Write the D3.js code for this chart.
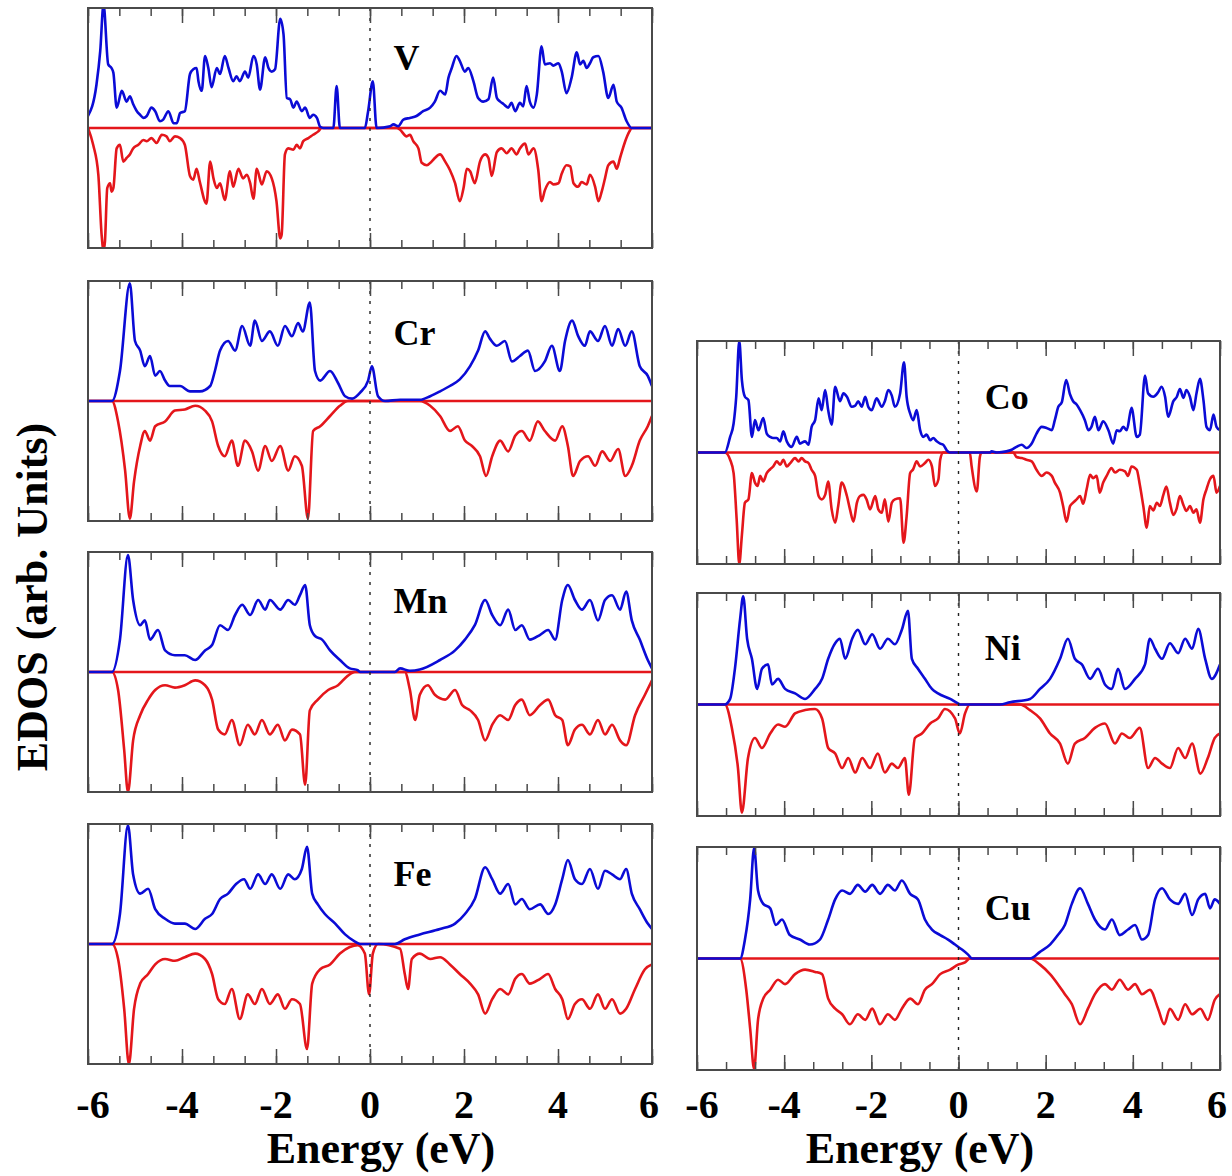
<!DOCTYPE html>
<html>
<head>
<meta charset="utf-8">
<script src="https://cdn.jsdelivr.net/npm/d3@7"></script>
<style>
  html, body { margin: 0; padding: 0; background: #fff; }
  svg { display: block; }
</style>
</head>
<body>
<script>
// Spin-resolved electronic DOS, [energy (eV), DOS (arb. units)]; spin-up positive, spin-down negative.
const energyTicks = [-6, -4, -2, 0, 2, 4, 6];

const vUp = [[-6.0,1.0],[-5.82,3.6],[-5.74,6.4],[-5.67,10.3],[-5.57,5.3],[-5.50,5.0],[-5.46,4.6],[-5.39,1.7],[-5.28,3.1],[-5.18,2.2],[-5.11,2.65],[-5.04,2.0],[-4.96,1.4],[-4.89,1.1],[-4.82,0.84],[-4.75,1.0],[-4.65,1.7],[-4.57,1.4],[-4.47,0.56],[-4.40,0.7],[-4.29,1.4],[-4.18,0.4],[-4.11,0.4],[-4.04,1.25],[-3.94,1.4],[-3.83,4.5],[-3.76,4.9],[-3.69,5.0],[-3.65,3.9],[-3.58,3.1],[-3.51,6.0],[-3.44,5.0],[-3.37,3.4],[-3.26,5.0],[-3.19,4.5],[-3.09,6.0],[-3.01,5.0],[-2.91,3.9],[-2.84,4.3],[-2.77,3.9],[-2.66,4.7],[-2.59,4.2],[-2.48,6.0],[-2.41,5.3],[-2.34,3.2],[-2.23,5.9],[-2.16,5.0],[-2.09,4.7],[-2.02,4.9],[-1.91,9.1],[-1.84,7.8],[-1.77,2.5],[-1.70,2.4],[-1.63,1.7],[-1.56,2.2],[-1.45,1.4],[-1.38,1.7],[-1.28,0.84],[-1.21,1.1],[-1.13,0.84],[-1.06,0.1],[-0.99,0],[-0.78,0],[-0.71,3.5],[-0.64,0],[-0.11,0],[-0.04,1.4],[0.06,3.9],[0.14,0],[0.43,0.15],[0.50,0.3],[0.60,0.15],[0.71,0.7],[0.85,0.84],[0.99,1.0],[1.13,1.4],[1.28,1.7],[1.38,2.2],[1.49,3.1],[1.60,2.8],[1.67,4.2],[1.74,5.0],[1.84,6.0],[1.91,5.6],[2.02,4.7],[2.09,5.0],[2.20,3.9],[2.30,2.5],[2.41,2.2],[2.52,2.4],[2.62,4.2],[2.70,2.5],[2.77,2.2],[2.84,2.0],[2.94,1.7],[3.01,2.1],[3.09,1.4],[3.19,2.1],[3.26,1.8],[3.33,3.5],[3.40,2.2],[3.48,1.7],[3.55,2.8],[3.65,6.8],[3.72,5.3],[3.83,5.4],[3.90,5.2],[4.01,5.4],[4.08,4.7],[4.18,2.9],[4.29,4.2],[4.40,6.3],[4.47,5.3],[4.54,5.6],[4.61,5.0],[4.68,5.4],[4.75,5.9],[4.86,6.0],[4.96,4.7],[5.07,2.5],[5.18,3.6],[5.25,2.2],[5.35,1.7],[5.46,0.56],[5.57,0],[6.0,0]];
const vDown = [[-6.0,0],[-5.89,-1.4],[-5.78,-3.9],[-5.71,-8.9],[-5.67,-10.2],[-5.64,-9.5],[-5.59,-5.0],[-5.53,-4.6],[-5.50,-5.3],[-5.46,-5.0],[-5.39,-1.7],[-5.32,-1.4],[-5.25,-2.8],[-5.18,-2.5],[-5.11,-2.2],[-5.04,-1.7],[-4.93,-1.4],[-4.82,-1.0],[-4.75,-1.1],[-4.65,-0.84],[-4.54,-1.25],[-4.43,-0.56],[-4.33,-0.7],[-4.26,-1.1],[-4.15,-0.7],[-4.04,-0.84],[-3.94,-1.4],[-3.83,-4.0],[-3.76,-4.3],[-3.69,-3.4],[-3.62,-4.5],[-3.48,-6.3],[-3.40,-2.8],[-3.33,-4.2],[-3.26,-5.0],[-3.19,-4.6],[-3.09,-6.0],[-2.98,-3.6],[-2.91,-4.9],[-2.80,-3.4],[-2.70,-4.2],[-2.62,-3.9],[-2.55,-4.6],[-2.48,-5.9],[-2.41,-3.4],[-2.30,-4.7],[-2.20,-3.6],[-2.09,-4.2],[-1.99,-6.1],[-1.91,-9.2],[-1.88,-8.9],[-1.81,-2.2],[-1.74,-1.7],[-1.63,-1.8],[-1.56,-1.4],[-1.49,-1.7],[-1.42,-1.1],[-1.31,-0.84],[-1.21,-0.56],[-1.10,-0.28],[-1.03,0],[0.57,0],[0.64,-0.15],[0.78,-0.7],[0.85,-0.56],[0.92,-1.1],[1.03,-1.7],[1.10,-2.9],[1.21,-3.1],[1.31,-2.8],[1.38,-2.5],[1.49,-2.2],[1.60,-2.8],[1.70,-3.5],[1.81,-4.6],[1.91,-6.1],[1.99,-5.0],[2.06,-3.4],[2.13,-3.6],[2.23,-4.6],[2.34,-2.8],[2.45,-2.2],[2.52,-2.5],[2.59,-4.0],[2.70,-2.0],[2.80,-1.7],[2.91,-2.1],[3.01,-1.7],[3.12,-2.2],[3.19,-1.7],[3.30,-1.3],[3.37,-2.2],[3.48,-1.7],[3.58,-3.5],[3.65,-6.1],[3.72,-5.2],[3.83,-4.5],[3.90,-4.7],[4.01,-4.6],[4.08,-3.8],[4.18,-3.1],[4.26,-3.2],[4.33,-4.6],[4.43,-4.9],[4.50,-4.5],[4.61,-4.7],[4.68,-3.9],[4.79,-4.9],[4.86,-6.1],[4.93,-5.3],[5.00,-4.2],[5.07,-3.1],[5.18,-2.8],[5.25,-3.4],[5.32,-2.5],[5.43,-1.1],[5.52,-0.28],[5.57,0],[6.0,0]];

const crUp = [[-6.0,0],[-5.49,0],[-5.32,2.5],[-5.11,9.8],[-5.0,5.0],[-4.89,4.2],[-4.79,2.9],[-4.68,3.75],[-4.57,2.1],[-4.47,2.5],[-4.36,1.7],[-4.26,1.25],[-4.04,1.25],[-3.83,0.8],[-3.62,0.8],[-3.40,1.25],[-3.30,2.5],[-3.19,4.2],[-3.02,5.0],[-2.87,4.2],[-2.72,6.25],[-2.55,4.6],[-2.45,6.7],[-2.30,5.0],[-2.13,5.8],[-1.96,4.6],[-1.81,6.25],[-1.66,5.4],[-1.53,6.5],[-1.43,5.8],[-1.28,8.2],[-1.17,2.5],[-1.06,1.7],[-0.85,2.5],[-0.68,1.5],[-0.53,0.4],[-0.38,0.2],[-0.21,0.7],[-0.04,1.7],[0.04,2.9],[0.17,0.4],[0.32,0],[0.64,0.1],[1.06,0.1],[1.28,0.4],[1.49,0.8],[1.70,1.25],[1.91,1.8],[2.13,2.9],[2.30,4.2],[2.45,5.8],[2.55,5.2],[2.70,4.6],[2.87,5.0],[3.02,3.3],[3.19,3.75],[3.36,4.2],[3.51,2.5],[3.72,3.3],[3.87,4.6],[4.04,2.5],[4.15,5.0],[4.30,6.7],[4.43,5.4],[4.57,4.6],[4.68,5.8],[4.85,5.0],[5.0,6.25],[5.15,4.6],[5.28,6.0],[5.43,4.6],[5.57,5.8],[5.74,2.9],[5.91,2.1],[6.0,1.25]];
const crDown = [[-6.0,0],[-5.49,0],[-5.36,-1.7],[-5.21,-5.8],[-5.11,-9.8],[-5.02,-6.7],[-4.89,-3.75],[-4.79,-2.5],[-4.68,-3.3],[-4.57,-2.1],[-4.36,-1.7],[-4.15,-0.8],[-3.94,-0.7],[-3.72,-0.4],[-3.51,-0.8],[-3.36,-1.7],[-3.23,-3.75],[-3.09,-4.6],[-2.94,-3.3],[-2.81,-5.4],[-2.66,-3.3],[-2.51,-4.2],[-2.38,-5.8],[-2.23,-3.75],[-2.09,-5.0],[-1.91,-3.75],[-1.74,-5.8],[-1.60,-4.6],[-1.45,-5.4],[-1.32,-9.8],[-1.21,-2.5],[-1.06,-2.1],[-0.85,-1.25],[-0.64,-0.4],[-0.47,0],[1.06,0],[1.28,-0.4],[1.49,-1.25],[1.70,-2.5],[1.87,-2.1],[2.02,-3.3],[2.17,-3.75],[2.34,-4.6],[2.47,-6.25],[2.60,-4.6],[2.77,-3.3],[2.94,-4.2],[3.09,-2.9],[3.23,-2.5],[3.40,-3.3],[3.57,-1.7],[3.72,-2.5],[3.94,-3.3],[4.09,-2.1],[4.21,-3.75],[4.32,-6.25],[4.47,-5.0],[4.64,-4.6],[4.79,-5.4],[4.94,-4.2],[5.11,-5.0],[5.28,-4.0],[5.43,-6.25],[5.57,-5.4],[5.74,-3.3],[5.91,-2.1],[6.0,-1.25]];

const mnUp = [[-6,0],[-5.49,0],[-5.32,2.7],[-5.15,9.75],[-5.04,6.0],[-4.89,3.9],[-4.79,4.3],[-4.68,2.7],[-4.51,3.5],[-4.36,1.8],[-4.15,1.4],[-3.94,1.4],[-3.72,1.0],[-3.51,1.8],[-3.36,2.25],[-3.19,3.9],[-3.02,3.5],[-2.87,4.75],[-2.72,5.6],[-2.55,4.75],[-2.38,6.0],[-2.23,5.2],[-2.13,6.0],[-1.91,5.2],[-1.74,6.0],[-1.60,5.6],[-1.49,6.4],[-1.38,7.25],[-1.28,3.9],[-1.17,3.0],[-1.02,2.7],[-0.85,1.8],[-0.64,1.0],[-0.43,0.3],[-0.26,0.15],[-0.21,0],[0.53,0],[0.64,0.3],[0.85,0.1],[1.06,0.2],[1.49,1.0],[1.81,1.8],[2.02,2.7],[2.23,3.9],[2.45,6.0],[2.60,4.75],[2.77,3.9],[2.94,5.2],[3.09,3.5],[3.23,3.9],[3.40,2.7],[3.62,3.1],[3.79,3.5],[3.94,2.7],[4.09,6.0],[4.21,7.25],[4.36,6.0],[4.51,5.2],[4.68,6.0],[4.85,4.3],[5.0,6.0],[5.15,6.4],[5.32,5.2],[5.45,6.7],[5.57,4.3],[5.74,2.7],[5.91,1.0],[6.0,0.3]];
const mnDown = [[-6,0],[-5.49,0],[-5.36,-1.5],[-5.23,-6.5],[-5.15,-10],[-5.04,-5.7],[-4.89,-3.6],[-4.72,-2.3],[-4.57,-1.5],[-4.36,-1.1],[-4.15,-1.3],[-3.94,-1.1],[-3.72,-0.7],[-3.51,-1.1],[-3.36,-2.3],[-3.23,-4.8],[-3.09,-5.2],[-2.94,-4.0],[-2.77,-6.1],[-2.60,-4.4],[-2.45,-5.2],[-2.30,-4.0],[-2.13,-5.2],[-1.96,-4.4],[-1.81,-5.7],[-1.66,-4.8],[-1.49,-5.2],[-1.38,-9.4],[-1.28,-3.2],[-1.11,-2.3],[-0.89,-1.5],[-0.68,-1.1],[-0.47,-0.3],[-0.32,0],[0.74,0],[0.85,-1.5],[0.96,-4.0],[1.06,-1.9],[1.23,-1.1],[1.38,-1.9],[1.60,-2.3],[1.81,-1.5],[1.96,-2.75],[2.13,-3.2],[2.30,-4.0],[2.45,-5.7],[2.60,-4.4],[2.77,-3.6],[2.94,-4.0],[3.09,-2.75],[3.23,-2.3],[3.40,-3.6],[3.62,-2.75],[3.79,-2.3],[3.94,-3.6],[4.09,-4.0],[4.21,-6.1],[4.36,-4.8],[4.51,-4.4],[4.68,-5.2],[4.85,-4.0],[5.0,-5.2],[5.15,-4.4],[5.32,-5.7],[5.45,-6.1],[5.64,-3.6],[5.85,-1.9],[6.0,-0.7]];

const feUp = [[-6,0],[-5.49,0],[-5.32,2.5],[-5.15,9.9],[-5.04,5.8],[-4.89,4.2],[-4.72,4.6],[-4.57,2.9],[-4.36,2.1],[-4.15,1.7],[-3.94,1.7],[-3.72,1.25],[-3.51,2.1],[-3.36,2.5],[-3.19,3.75],[-3.02,4.2],[-2.85,5.0],[-2.68,5.4],[-2.55,4.6],[-2.38,5.8],[-2.23,5.0],[-2.09,5.8],[-1.91,4.6],[-1.74,5.8],[-1.60,5.4],[-1.45,6.25],[-1.34,8.1],[-1.23,4.2],[-1.11,3.3],[-0.96,2.5],[-0.74,1.7],[-0.53,0.8],[-0.32,0.2],[-0.21,0],[0.53,0],[0.74,0.4],[1.06,0.8],[1.49,1.25],[1.81,1.7],[2.02,2.5],[2.23,3.75],[2.45,6.4],[2.60,5.4],[2.77,4.2],[2.94,5.0],[3.09,3.3],[3.23,3.75],[3.40,2.9],[3.62,3.3],[3.79,2.5],[3.94,3.3],[4.09,5.4],[4.21,7.0],[4.36,5.4],[4.51,5.0],[4.68,6.25],[4.85,4.6],[5.0,6.1],[5.15,5.8],[5.32,5.4],[5.45,6.25],[5.57,4.2],[5.74,2.9],[5.91,1.7],[6.0,1.25]];
const feDown = [[-6,0],[-5.49,0],[-5.36,-1.25],[-5.23,-5.4],[-5.13,-10],[-5.02,-5.4],[-4.89,-3.3],[-4.72,-2.5],[-4.57,-1.7],[-4.36,-1.25],[-4.15,-1.4],[-3.94,-1.1],[-3.72,-0.8],[-3.51,-1.25],[-3.36,-2.5],[-3.23,-4.6],[-3.09,-5.0],[-2.94,-3.75],[-2.77,-6.25],[-2.60,-4.2],[-2.45,-5.0],[-2.30,-3.75],[-2.13,-5.0],[-1.96,-4.2],[-1.81,-5.4],[-1.66,-4.6],[-1.49,-5.0],[-1.34,-8.75],[-1.23,-3.3],[-1.06,-2.1],[-0.85,-1.7],[-0.64,-0.8],[-0.43,-0.25],[-0.26,-0.1],[-0.11,-0.8],[-0.02,-4.2],[0.06,-0.8],[0.17,0],[0.64,-0.4],[0.74,-2.5],[0.81,-3.75],[0.89,-1.25],[1.06,-0.8],[1.28,-1.25],[1.49,-1.1],[1.70,-1.7],[1.91,-2.5],[2.13,-3.3],[2.30,-4.2],[2.45,-5.8],[2.60,-4.6],[2.77,-3.75],[2.94,-4.2],[3.09,-2.9],[3.23,-2.5],[3.40,-3.3],[3.62,-2.9],[3.79,-2.5],[3.94,-3.75],[4.09,-4.6],[4.21,-6.25],[4.36,-5.0],[4.51,-4.6],[4.68,-5.4],[4.85,-4.2],[5.0,-5.4],[5.15,-4.6],[5.32,-5.8],[5.45,-5.4],[5.64,-3.75],[5.85,-2.1],[6.0,-1.7]];

const coUp = [[-6,0],[-5.36,0],[-5.24,1.4],[-5.16,2.6],[-5.10,5.0],[-5.03,10],[-4.97,6.5],[-4.90,5.0],[-4.82,4.7],[-4.74,1.4],[-4.67,2.9],[-4.59,2.0],[-4.48,3.1],[-4.40,1.7],[-4.32,1.4],[-4.25,1.3],[-4.17,1.3],[-4.09,1.0],[-4.02,1.9],[-3.94,1.0],[-3.83,0.5],[-3.71,1.4],[-3.64,0.8],[-3.52,1.0],[-3.44,0.7],[-3.37,2.3],[-3.29,2.9],[-3.21,4.85],[-3.14,3.8],[-3.06,5.6],[-2.99,3.8],[-2.91,2.5],[-2.83,5.9],[-2.72,4.6],[-2.64,5.3],[-2.56,5.0],[-2.45,4.1],[-2.37,4.2],[-2.30,4.6],[-2.22,4.1],[-2.14,5.0],[-2.07,4.1],[-1.99,3.8],[-1.88,4.85],[-1.76,4.1],[-1.69,4.6],[-1.61,5.6],[-1.53,5.1],[-1.46,4.1],[-1.34,5.3],[-1.25,8.1],[-1.19,5.0],[-1.11,3.5],[-1.04,2.9],[-0.96,3.8],[-0.88,2.0],[-0.81,1.4],[-0.73,1.6],[-0.65,1.1],[-0.58,1.3],[-0.50,1.0],[-0.42,0.8],[-0.35,0.7],[-0.27,0.2],[-0.20,0],[0.72,0],[0.76,0.1],[0.88,0],[1.10,0.1],[1.22,0.25],[1.33,0.5],[1.45,0.7],[1.56,0.4],[1.68,0.8],[1.79,1.7],[1.91,2.3],[2.02,2.2],[2.14,2.0],[2.21,2.9],[2.29,4.1],[2.37,4.5],[2.47,6.5],[2.56,5.2],[2.63,4.6],[2.71,4.3],[2.79,3.8],[2.90,2.9],[2.98,2.0],[3.05,2.3],[3.13,3.2],[3.21,2.0],[3.32,2.8],[3.44,2.0],[3.55,0.8],[3.63,2.0],[3.70,1.9],[3.78,2.3],[3.86,2.0],[3.97,4.0],[4.09,1.4],[4.16,1.6],[4.28,6.9],[4.35,5.3],[4.47,5.0],[4.58,5.4],[4.66,5.9],[4.74,5.0],[4.81,3.2],[4.93,4.6],[5.01,5.0],[5.08,5.7],[5.16,4.9],[5.23,5.6],[5.31,5.0],[5.39,3.8],[5.46,5.3],[5.54,6.6],[5.62,4.7],[5.69,2.3],[5.77,2.0],[5.85,3.4],[5.92,2.3],[6.0,2.0]];
const coDown = [[-6,0],[-5.36,0],[-5.24,-0.65],[-5.16,-1.85],[-5.09,-6.0],[-5.03,-10],[-4.97,-7.4],[-4.90,-4.5],[-4.82,-4.2],[-4.74,-1.85],[-4.67,-2.7],[-4.61,-3.0],[-4.55,-2.1],[-4.48,-2.6],[-4.40,-1.85],[-4.32,-1.5],[-4.25,-1.25],[-4.17,-0.8],[-4.09,-1.1],[-4.02,-0.65],[-3.94,-1.25],[-3.86,-0.95],[-3.75,-0.5],[-3.67,-0.8],[-3.60,-0.5],[-3.52,-0.8],[-3.44,-0.95],[-3.37,-1.55],[-3.29,-2.1],[-3.21,-3.9],[-3.14,-4.2],[-3.06,-3.8],[-2.99,-2.6],[-2.91,-5.1],[-2.83,-6.3],[-2.76,-4.8],[-2.68,-2.7],[-2.56,-3.9],[-2.49,-5.1],[-2.41,-6.2],[-2.33,-4.5],[-2.26,-3.9],[-2.18,-3.8],[-2.11,-4.2],[-2.03,-5.1],[-1.91,-3.9],[-1.84,-5.1],[-1.76,-5.4],[-1.69,-4.2],[-1.61,-6.2],[-1.53,-4.5],[-1.46,-4.2],[-1.34,-4.1],[-1.26,-8.1],[-1.19,-5.7],[-1.11,-1.85],[-1.04,-1.5],[-0.96,-0.8],[-0.88,-1.25],[-0.77,-0.95],[-0.69,-0.65],[-0.61,-1.25],[-0.54,-3.0],[-0.46,-2.4],[-0.42,-0.65],[-0.35,0],[0.26,0],[0.30,-1.2],[0.42,-3.5],[0.49,-0.4],[0.53,0],[1.26,0],[1.33,-0.4],[1.45,-0.5],[1.56,-0.65],[1.68,-0.8],[1.79,-1.55],[1.91,-2.1],[2.02,-1.8],[2.14,-2.1],[2.21,-2.7],[2.33,-3.6],[2.40,-4.8],[2.48,-6.2],[2.56,-4.8],[2.63,-4.5],[2.71,-4.2],[2.79,-3.9],[2.86,-4.6],[2.94,-3.3],[3.02,-2.0],[3.09,-2.3],[3.17,-2.1],[3.24,-3.6],[3.32,-2.7],[3.40,-2.1],[3.51,-1.4],[3.59,-1.8],[3.70,-1.55],[3.82,-1.7],[3.89,-2.1],[3.97,-1.25],[4.09,-1.55],[4.16,-2.9],[4.24,-4.8],[4.32,-6.75],[4.39,-4.8],[4.47,-5.2],[4.55,-4.5],[4.62,-4.8],[4.70,-3.8],[4.77,-3.05],[4.85,-4.5],[4.93,-5.6],[5.00,-5.1],[5.08,-3.9],[5.16,-4.7],[5.23,-5.25],[5.31,-4.8],[5.39,-5.4],[5.46,-5.1],[5.54,-6.3],[5.62,-4.2],[5.69,-3.3],[5.77,-2.4],[5.85,-2.1],[5.92,-3.6],[6.0,-3.0]];

const niUp = [[-6,0],[-5.36,0],[-5.24,0.5],[-5.13,3.2],[-5.01,7.7],[-4.94,9.7],[-4.85,5.9],[-4.74,4.1],[-4.62,1.4],[-4.51,3.2],[-4.37,3.6],[-4.28,1.8],[-4.14,2.3],[-3.98,1.4],[-3.75,1.0],[-3.52,0.5],[-3.29,1.4],[-3.13,2.3],[-2.99,4.1],[-2.83,5.5],[-2.72,5.9],[-2.60,4.1],[-2.44,5.9],[-2.31,6.7],[-2.14,5.4],[-1.98,6.3],[-1.80,5.0],[-1.62,5.9],[-1.46,5.4],[-1.30,6.7],[-1.16,8.4],[-1.07,4.1],[-0.93,3.2],[-0.77,2.3],[-0.61,1.4],[-0.47,1.0],[-0.19,0.5],[-0.01,0.1],[0.05,0],[0.95,0],[1.18,0.2],[1.64,0.5],[1.87,1.4],[2.10,2.3],[2.33,4.1],[2.51,5.9],[2.67,4.1],[2.83,3.6],[3.02,2.3],[3.20,3.2],[3.36,1.8],[3.52,1.4],[3.66,3.2],[3.82,1.4],[4.05,2.3],[4.28,3.6],[4.39,5.9],[4.51,5.0],[4.67,4.1],[4.85,5.5],[5.04,4.6],[5.20,5.9],[5.36,5.0],[5.50,6.8],[5.66,4.1],[5.81,2.3],[6.0,3.6]];
const niDown = [[-6,0],[-5.36,0],[-5.20,-2.1],[-5.06,-5.7],[-4.97,-9.7],[-4.83,-4.8],[-4.67,-3.0],[-4.51,-3.9],[-4.32,-2.6],[-4.14,-1.8],[-3.98,-2.0],[-3.75,-0.8],[-3.52,-0.5],[-3.29,-0.4],[-3.13,-1.25],[-2.99,-3.9],[-2.83,-4.4],[-2.67,-5.7],[-2.53,-4.8],[-2.37,-6.1],[-2.21,-4.8],[-2.03,-5.7],[-1.85,-4.4],[-1.69,-6.1],[-1.53,-5.3],[-1.39,-5.7],[-1.23,-4.8],[-1.14,-8.1],[-1.00,-3.0],[-0.84,-2.6],[-0.65,-1.7],[-0.47,-1.25],[-0.31,-0.4],[-0.08,-1.25],[0.03,-2.6],[0.15,-0.8],[0.26,0],[1.41,0],[1.64,-0.5],[1.87,-1.25],[2.10,-2.6],[2.33,-3.5],[2.51,-5.3],[2.67,-3.5],[2.90,-3.0],[3.13,-2.1],[3.36,-1.7],[3.59,-3.5],[3.75,-2.6],[3.93,-3.0],[4.16,-2.1],[4.35,-5.7],[4.51,-4.8],[4.67,-5.3],[4.85,-5.7],[5.04,-3.9],[5.20,-4.8],[5.36,-3.5],[5.55,-6.2],[5.72,-4.8],[5.88,-3.0],[6.0,-2.6]];

const cuUp = [[-6,0],[-5.01,0],[-4.90,1.7],[-4.78,5.3],[-4.69,9.9],[-4.60,6.1],[-4.48,4.9],[-4.32,4.5],[-4.19,3.0],[-4.05,3.5],[-3.87,2.1],[-3.64,1.7],[-3.41,1.25],[-3.18,1.7],[-2.99,3.5],[-2.83,5.3],[-2.67,6.1],[-2.49,5.8],[-2.31,6.6],[-2.14,6.0],[-1.98,6.6],[-1.80,5.8],[-1.62,6.6],[-1.46,6.1],[-1.30,7.0],[-1.11,5.8],[-0.93,5.3],[-0.77,3.5],[-0.61,2.6],[-0.42,2.1],[-0.24,1.7],[-0.08,1.25],[0.08,0.8],[0.22,0.35],[0.31,0],[1.64,0],[1.87,0.6],[2.10,1.25],[2.28,2.1],[2.44,3.0],[2.60,4.9],[2.79,6.3],[2.97,4.9],[3.13,3.5],[3.36,2.6],[3.52,3.5],[3.70,2.1],[3.89,2.6],[4.05,3.0],[4.21,1.7],[4.35,2.1],[4.51,5.3],[4.67,6.3],[4.85,5.3],[5.04,4.9],[5.20,5.8],[5.36,3.9],[5.50,5.3],[5.66,5.8],[5.77,4.5],[5.88,5.3],[6.0,4.9]];
const cuDown = [[-6,0],[-5.01,0],[-4.87,-2.8],[-4.78,-6.3],[-4.69,-9.9],[-4.60,-5.5],[-4.48,-3.6],[-4.32,-2.8],[-4.14,-1.9],[-3.98,-2.3],[-3.75,-1.4],[-3.52,-1.0],[-3.29,-1.2],[-3.13,-1.4],[-2.99,-3.6],[-2.83,-4.5],[-2.67,-5.0],[-2.49,-5.9],[-2.31,-5.0],[-2.14,-5.5],[-1.98,-4.5],[-1.80,-5.9],[-1.62,-5.0],[-1.46,-5.5],[-1.30,-4.5],[-1.11,-3.6],[-0.93,-4.1],[-0.77,-2.8],[-0.61,-2.3],[-0.42,-1.4],[-0.19,-1.0],[-0.01,-0.55],[0.15,-0.35],[0.26,0],[1.64,0],[1.87,-0.55],[2.10,-1.4],[2.28,-2.3],[2.44,-3.2],[2.60,-4.1],[2.79,-5.9],[2.97,-4.5],[3.13,-3.2],[3.36,-2.3],[3.52,-2.8],[3.70,-1.9],[3.89,-2.8],[4.05,-2.3],[4.21,-3.2],[4.39,-2.8],[4.58,-4.5],[4.72,-5.9],[4.85,-4.5],[5.04,-5.5],[5.20,-4.1],[5.36,-5.0],[5.55,-4.5],[5.72,-5.5],[5.88,-3.7],[6.0,-3.2]];

const elements = ["V", "Cr", "Mn", "Fe", "Co", "Ni", "Cu"];
const spinUp = [vUp, crUp, mnUp, feUp, coUp, niUp, cuUp];
const spinDown = [vDown, crDown, mnDown, feDown, coDown, niDown, cuDown];

// ---- layout ----
const W = 1232, H = 1176;
const FONT = "'Liberation Serif', 'Times New Roman', Times, serif";
const BLUE = "#0b0bd6", RED = "#e4161b", FRAME = "#4a4a4a";

const columns = {
  left:  { x0: 88,  x1: 652,  h: 240, labelE: 0.5, titleX: 381 },
  right: { x0: 697, x1: 1220, h: 223, labelE: 0.6, titleX: 920 }
};
const panelLayout = [
  { col: "left",  top: 8,   labelDy: 62 },
  { col: "left",  top: 281, labelDy: 64 },
  { col: "left",  top: 552, labelDy: 61 },
  { col: "left",  top: 824, labelDy: 62, last: true },
  { col: "right", top: 341, labelDy: 68 },
  { col: "right", top: 593, labelDy: 67 },
  { col: "right", top: 847, labelDy: 73, last: true }
];

const svg = d3.select("body").append("svg")
  .attr("width", W).attr("height", H)
  .attr("font-family", FONT);
svg.append("rect").attr("width", W).attr("height", H).attr("fill", "#fff");

const minorTicks = d3.range(0, 19).map(k => -6 + k * 2 / 3);

elements.forEach((name, i) => {
  const L = panelLayout[i];
  const c = columns[L.col];
  const x = d3.scaleLinear().domain([-6, 6]).range([c.x0, c.x1]);
  const y = d3.scaleLinear().domain([-10, 10]).range([L.top + c.h, L.top]);
  const g = svg.append("g");

  const clipId = "clip-" + name;
  g.append("clipPath").attr("id", clipId)
    .append("rect").attr("x", c.x0).attr("y", L.top).attr("width", c.x1 - c.x0).attr("height", c.h);

  const plot = g.append("g").attr("clip-path", `url(#${clipId})`);
  const line = d3.line().x(d => x(d[0])).y(d => y(d[1])).curve(d3.curveMonotoneX);

  // zero baseline of the spin-down channel
  plot.append("line")
    .attr("x1", x(-6)).attr("x2", x(6)).attr("y1", y(0)).attr("y2", y(0))
    .attr("stroke", RED).attr("stroke-width", 2.4);

  plot.append("path").datum(spinDown[i])
    .attr("d", line).attr("fill", "none")
    .attr("stroke", RED).attr("stroke-width", 2.6).attr("stroke-linejoin", "round");
  plot.append("path").datum(spinUp[i])
    .attr("d", line).attr("fill", "none")
    .attr("stroke", BLUE).attr("stroke-width", 2.6).attr("stroke-linejoin", "round");

  // Fermi level
  g.append("line")
    .attr("x1", x(0)).attr("x2", x(0)).attr("y1", L.top).attr("y2", L.top + c.h)
    .attr("stroke", "#222").attr("stroke-width", 1.4).attr("stroke-dasharray", "3,7");

  // inward ticks on top and bottom edges
  const tickStyle = sel => {
    sel.select(".domain").remove();
    sel.selectAll(".tick line").attr("stroke", FRAME).attr("stroke-width", 1.5);
  };
  g.append("g").attr("transform", `translate(0,${L.top})`)
    .call(d3.axisTop(x).tickValues(minorTicks).tickSizeInner(-8).tickSizeOuter(0).tickFormat(""))
    .call(tickStyle);
  g.append("g").attr("transform", `translate(0,${L.top})`)
    .call(d3.axisTop(x).tickValues(energyTicks).tickSizeInner(-15).tickSizeOuter(0).tickFormat(""))
    .call(tickStyle);
  g.append("g").attr("transform", `translate(0,${L.top + c.h})`)
    .call(d3.axisBottom(x).tickValues(minorTicks).tickSizeInner(-8).tickSizeOuter(0).tickFormat(""))
    .call(tickStyle);
  g.append("g").attr("transform", `translate(0,${L.top + c.h})`)
    .call(d3.axisBottom(x).tickValues(energyTicks).tickSizeInner(-15).tickSizeOuter(0).tickFormat(""))
    .call(tickStyle);

  // frame
  g.append("rect")
    .attr("x", c.x0).attr("y", L.top).attr("width", c.x1 - c.x0).attr("height", c.h)
    .attr("fill", "none").attr("stroke", FRAME).attr("stroke-width", 2);

  // element label
  g.append("text")
    .attr("x", x(c.labelE)).attr("y", L.top + L.labelDy)
    .attr("font-size", 36).attr("font-weight", "bold").attr("fill", "#000")
    .text(name);

  if (L.last) {
    // end labels sit slightly inside the frame edges
    const nudge = d => (d === -6 ? 5 : d === 6 ? -3 : 0);
    g.selectAll("text.tl").data(energyTicks).join("text")
      .attr("class", "tl")
      .attr("x", d => x(d) + nudge(d)).attr("y", 1118)
      .attr("text-anchor", "middle")
      .attr("font-size", 40).attr("font-weight", "bold").attr("fill", "#000")
      .text(d => String(d));
    g.append("text")
      .attr("x", c.titleX).attr("y", 1163)
      .attr("text-anchor", "middle")
      .attr("font-size", 44).attr("font-weight", "bold").attr("fill", "#000")
      .text("Energy (eV)");
  }
});

svg.append("text")
  .attr("transform", "translate(47,597) rotate(-90)")
  .attr("text-anchor", "middle")
  .attr("font-size", 44).attr("font-weight", "bold").attr("fill", "#000")
  .text("EDOS (arb. Units)");
</script>
</body>
</html>
